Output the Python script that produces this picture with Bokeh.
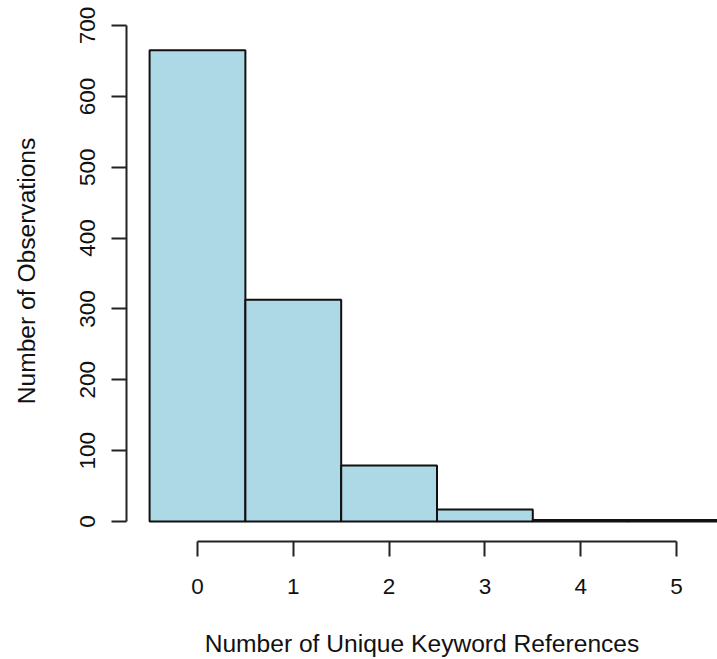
from bokeh.plotting import figure
from bokeh.models import ColumnDataSource, Range1d, FixedTicker
from bokeh.embed import file_html
from bokeh.resources import INLINE

# Data
keyword_refs = [0, 1, 2, 3, 4, 5]
observations = [665, 313, 79, 17, 2, 2]
x_ticks = [0, 1, 2, 3, 4, 5]
y_ticks = [0, 100, 200, 300, 400, 500, 600, 700]
x_title = "Number of Unique Keyword References"
y_title = "Number of Observations"

src = ColumnDataSource(dict(
    left=[k - 0.5 for k in keyword_refs],
    right=[k + 0.5 for k in keyword_refs],
    top=observations,
    bottom=[0] * len(observations),
))

p = figure(width=717, height=659, output_backend="svg", toolbar_location=None,
           x_range=Range1d(-0.741, 5.428), y_range=Range1d(-28.2, 735.3),
           min_border_left=126, min_border_right=0, min_border_top=0,
           min_border_bottom=118)
p.outline_line_color = None
p.xgrid.visible = False
p.ygrid.visible = False
p.background_fill_color = "white"
p.border_fill_color = "white"

p.quad(left="left", right="right", top="top", bottom="bottom", source=src,
       fill_color="#ADD8E6", line_color="#111111", line_width=2)

font = "Liberation Sans"
for ax in (p.xaxis[0], p.yaxis[0]):
    ax.axis_line_color = "#222222"
    ax.axis_line_width = 2
    ax.major_tick_line_color = "#222222"
    ax.major_tick_line_width = 2
    ax.major_tick_in = 0
    ax.major_tick_out = 15
    ax.minor_tick_line_color = None
    ax.major_label_text_font = font
    ax.major_label_text_font_size = "22.5px"
    ax.major_label_text_color = "#111111"
    ax.axis_label_text_font = font
    ax.axis_label_text_font_size = "24.6px"
    ax.axis_label_text_font_style = "normal"
    ax.axis_label_text_color = "#111111"

p.xaxis[0].ticker = FixedTicker(ticks=x_ticks)
p.xaxis[0].bounds = (0, 5)
p.xaxis[0].major_label_standoff = 22
p.xaxis[0].axis_label = x_title
p.xaxis[0].axis_label_standoff = 33

p.yaxis[0].ticker = FixedTicker(ticks=y_ticks)
p.yaxis[0].bounds = (0, 700)
p.yaxis[0].major_label_orientation = "vertical"
p.yaxis[0].major_label_standoff = 16
p.yaxis[0].axis_label = y_title
p.yaxis[0].axis_label_standoff = 38

open("out.html", "w").write(file_html(p, INLINE))
